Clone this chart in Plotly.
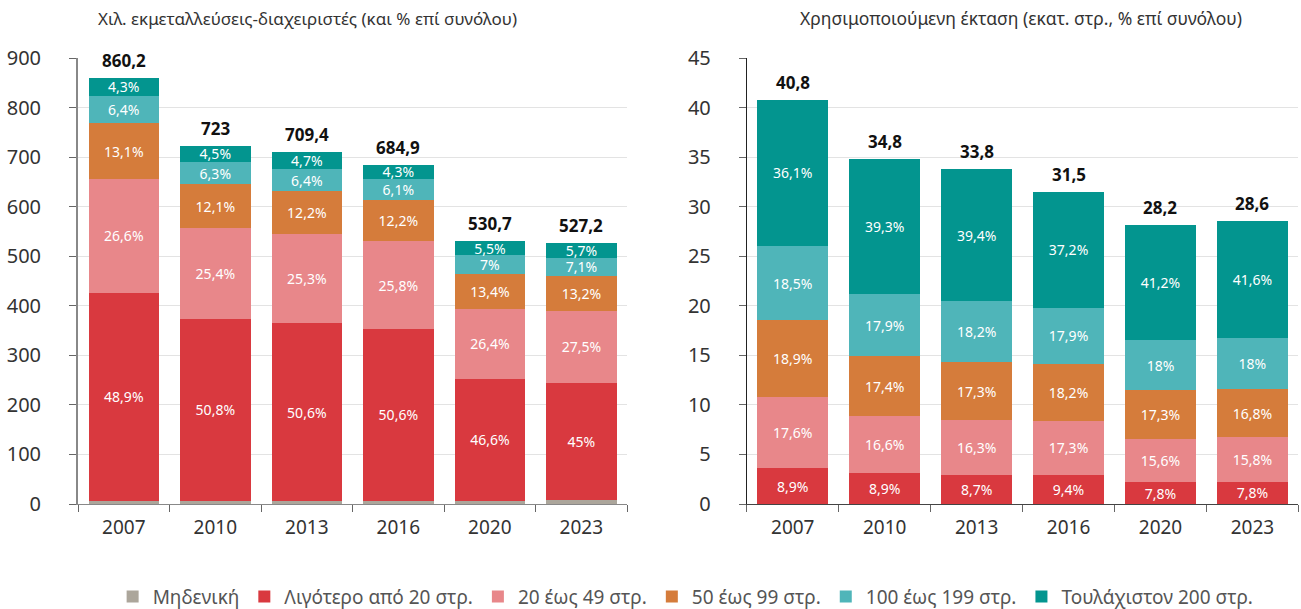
import plotly.graph_objects as go

years = ["2007", "2010", "2013", "2016", "2020", "2023"]
series = ["Μηδενική", "Λιγότερο από 20 στρ.", "20 έως 49 στρ.", "50 έως 99 στρ.",
          "100 έως 199 στρ.", "Τουλάχιστον 200 στρ."]
colors = ["#aca69b", "#d9393f", "#e8878a", "#d57c3b", "#4fb5b9", "#03958f"]

# Left: thousand holdings (totals) and % shares
left_totals = [860.2, 723, 709.4, 684.9, 530.7, 527.2]
left_zero = [0.7, 0.9, 0.8, 1.0, 1.1, 1.5]
left_lt20 = [48.9, 50.8, 50.6, 50.6, 46.6, 45]
left_20_49 = [26.6, 25.4, 25.3, 25.8, 26.4, 27.5]
left_50_99 = [13.1, 12.1, 12.2, 12.2, 13.4, 13.2]
left_100_199 = [6.4, 6.3, 6.4, 6.1, 7, 7.1]
left_200 = [4.3, 4.5, 4.7, 4.3, 5.5, 5.7]

# Right: utilised area (million stremmata) and % shares
right_totals = [40.8, 34.8, 33.8, 31.5, 28.2, 28.6]
right_zero = [0, 0, 0, 0, 0, 0]
right_lt20 = [8.9, 8.9, 8.7, 9.4, 7.8, 7.8]
right_20_49 = [17.6, 16.6, 16.3, 17.3, 15.6, 15.8]
right_50_99 = [18.9, 17.4, 17.3, 18.2, 17.3, 16.8]
right_100_199 = [18.5, 17.9, 18.2, 17.9, 18, 18]
right_200 = [36.1, 39.3, 39.4, 37.2, 41.2, 41.6]

left_shares = [left_zero, left_lt20, left_20_49, left_50_99, left_100_199, left_200]
right_shares = [right_zero, right_lt20, right_20_49, right_50_99, right_100_199, right_200]

FONT = "Noto Sans"


def fmt(v):
    s = ("%.1f" % v).rstrip("0").rstrip(".")
    return s.replace(".", ",")


fig = go.Figure()

for side, totals, shares, xa, ya in [("L", left_totals, left_shares, "x", "y"),
                                     ("R", right_totals, right_shares, "x2", "y2")]:
    for i, name in enumerate(series):
        vals = [t * p / 100 for t, p in zip(totals, shares[i])]
        texts = ["" if i == 0 else fmt(p) + "%" for p in shares[i]]
        fig.add_trace(go.Bar(
            x=years, y=vals, name=name, marker=dict(color=colors[i], line=dict(width=0)),
            text=texts, textposition="inside", insidetextanchor="middle", textangle=0,
            constraintext="none", cliponaxis=False,
            textfont=dict(color="white", size=14, family=FONT),
            xaxis=xa, yaxis=ya, showlegend=(side == "L"), legendgroup=name,
            hoverinfo="skip"))
    for idx, t in enumerate(totals):
        fig.add_annotation(x=idx, y=t, xref=xa, yref=ya, text="<b>" + fmt(t) + "</b>",
                           showarrow=False, xanchor="center", yanchor="bottom", yshift=4,
                           font=dict(size=17, color="#111", family=FONT))

axis_common = dict(type="category", showgrid=False, ticks="outside", ticklen=7,
                   tickson="boundaries", automargin=False, ticklabelstandoff=6,
                   tickfont=dict(size=19, color="#333", family=FONT), showline=True,
                   linewidth=1)
yaxis_common = dict(showgrid=True, gridcolor="#e3e3e3", showline=True, ticks="outside",
                    ticklen=7, tickcolor="#666", ticklabelstandoff=24, zeroline=False,
                    automargin=False, tickfont=dict(size=20, color="#333", family=FONT))
fig.update_layout(
    barmode="stack", bargap=0.23,
    width=1301, height=609,
    margin=dict(l=0, r=0, t=58, b=105, autoexpand=False),
    plot_bgcolor="white", paper_bgcolor="white",
    font=dict(family=FONT),
    xaxis=dict(domain=[0.06, 0.482], linecolor="#888", tickcolor="#666", **axis_common),
    xaxis2=dict(domain=[0.574, 0.998], anchor="y2", linecolor="#444", tickcolor="#666",
                **axis_common),
    yaxis=dict(range=[0, 900], dtick=100, linecolor="#888", linewidth=2, **yaxis_common),
    yaxis2=dict(range=[0, 45], dtick=5, anchor="x2", linecolor="#222", linewidth=1,
                **yaxis_common),
    legend=dict(orientation="h", x=0.527, xanchor="center", y=-0.165, yanchor="top",
                font=dict(size=19, color="#555", family=FONT), traceorder="normal",
                itemwidth=30),
)

fig.add_annotation(x=0.236, y=1.0, xref="paper", yref="paper", yshift=40,
                   xanchor="center", yanchor="middle",
                   text="Χιλ. εκμεταλλεύσεις-διαχειριστές (και % επί συνόλου)",
                   showarrow=False, font=dict(size=17, color="#333", family=FONT))
fig.add_annotation(x=0.785, y=1.0, xref="paper", yref="paper", yshift=40,
                   xanchor="center", yanchor="middle",
                   text="Χρησιμοποιούμενη έκταση (εκατ. στρ., % επί συνόλου)",
                   showarrow=False, font=dict(size=17.5, color="#333", family=FONT))

fig.write_html("out.html", config={"displayModeBar": False},
               post_script="document.body.style.margin='0';")
